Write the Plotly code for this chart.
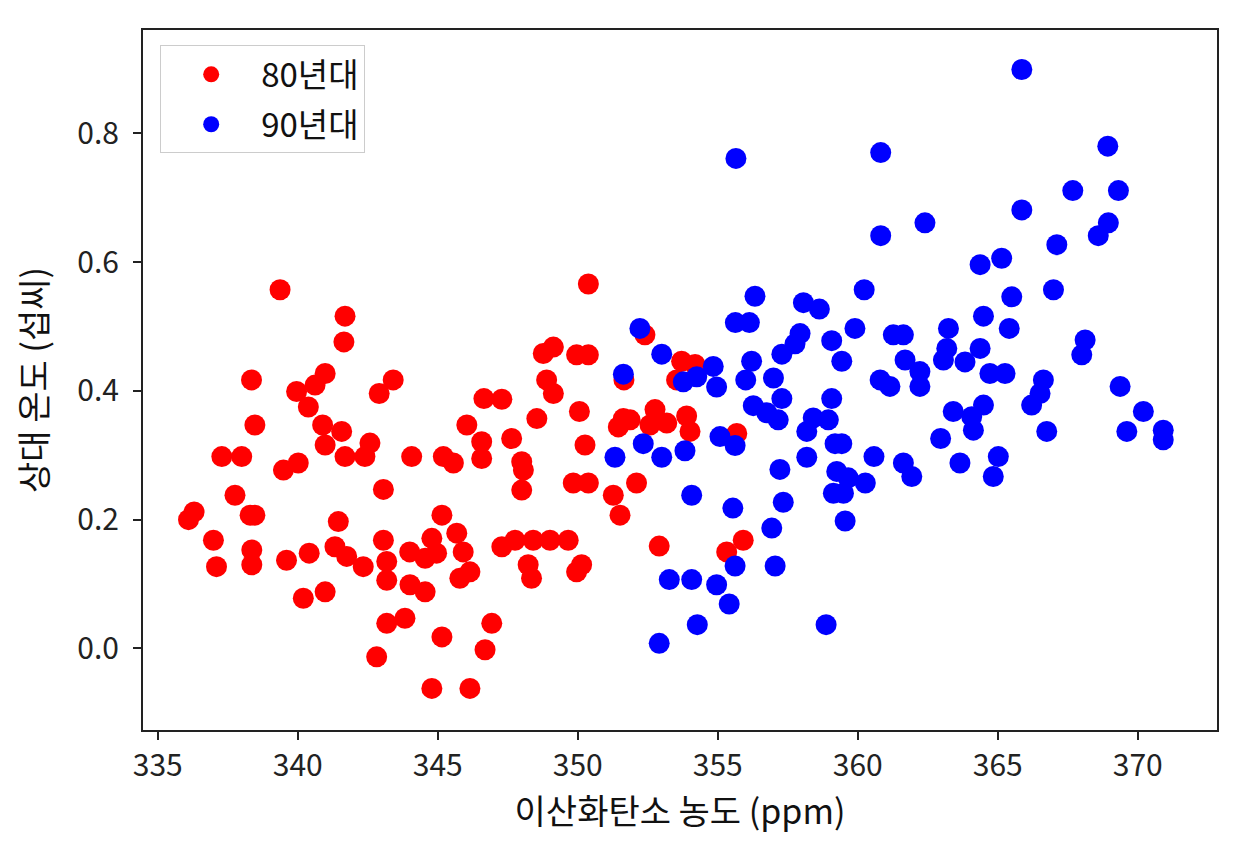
import plotly.graph_objects as go

# 80년대 (red)
co2_80s = [
    339.37, 341.69, 341.65, 338.35, 340.98, 340.62, 339.96, 340.38, 343.41, 342.91,
    338.47, 340.89, 341.57, 340.98, 342.58, 341.69, 342.40, 337.29, 338.00, 344.07,
    339.49, 340.02, 337.76, 343.06, 336.10, 336.30, 338.47, 338.30, 341.45, 336.99,
    337.10, 338.36, 338.36, 339.60, 340.41, 341.33, 341.75, 342.34, 343.06, 343.18,
    344.55, 343.18, 344.01, 344.55, 340.20, 340.98, 343.18, 343.83, 342.82, 344.79,
    345.15, 345.15,
    344.79, 345.68, 344.00, 344.96, 345.91, 346.15, 345.79,
    350.38, 352.40, 351.65, 348.77, 349.13, 349.96, 350.38, 348.89, 349.13, 346.65,
    347.29, 348.54, 350.06, 351.63, 351.45, 346.04, 346.57, 346.57, 347.64, 345.20,
    345.56, 348.00, 348.06, 348.00, 350.26, 349.84, 350.38, 352.10, 351.27, 351.51,
    347.29, 347.76, 348.41, 349.01, 349.66, 348.23, 348.35, 349.96, 350.14,
    346.93, 346.69, 346.15,
    353.71, 354.19, 353.53, 352.76, 352.58, 353.18, 353.89, 354.01, 351.87, 355.68,
    352.91, 355.32, 355.91,
]
temp_80s = [
    0.557, 0.516, 0.476, 0.417, 0.427, 0.409, 0.399, 0.375, 0.417, 0.396,
    0.347, 0.347, 0.337, 0.316, 0.319, 0.298, 0.298, 0.298, 0.298, 0.298,
    0.277, 0.288, 0.238, 0.247, 0.200, 0.212, 0.207, 0.207, 0.197, 0.168,
    0.127, 0.153, 0.130, 0.137, 0.148, 0.158, 0.143, 0.127, 0.168, 0.135,
    0.140, 0.106, 0.099, 0.088, 0.078, 0.088, 0.039, 0.047, -0.013, -0.062,
    0.018, 0.207,
    0.171, 0.179, 0.150, 0.148, 0.150, 0.119, 0.109,
    0.566, 0.487, 0.417, 0.458, 0.468, 0.456, 0.456, 0.417, 0.396, 0.388,
    0.387, 0.357, 0.368, 0.357, 0.344, 0.347, 0.321, 0.295, 0.326, 0.298,
    0.288, 0.290, 0.277, 0.246, 0.316, 0.257, 0.257, 0.257, 0.238, 0.207,
    0.158, 0.168, 0.168, 0.168, 0.168, 0.130, 0.109, 0.119, 0.130,
    0.039, -0.002, -0.062,
    0.446, 0.441, 0.417, 0.371, 0.347, 0.350, 0.361, 0.337, 0.355, 0.334,
    0.159, 0.150, 0.168,
]

# 90년대 (blue)
co2_90s = [
    355.65, 356.33, 355.63, 356.13, 358.06, 358.63, 352.22, 353.00, 351.63, 357.94,
    357.76, 357.29, 359.07, 359.43, 356.21, 356.00, 354.84, 353.77, 354.25, 354.96,
    356.99, 357.29, 356.27, 357.16, 356.75, 359.07, 358.41, 358.18, 358.95, 359.43,
    359.19, 359.25, 359.66, 359.13, 359.49, 359.55, 358.18, 357.22, 357.34, 356.93,
    357.05, 355.08, 355.62, 352.34, 351.33, 353.00, 353.83, 354.07, 355.54, 355.62,
    353.27, 354.07, 354.96, 355.41, 354.27, 352.91, 358.87,
    365.86, 360.82, 368.93, 367.68, 369.31, 365.86, 362.40, 360.82, 368.95, 368.59,
    367.11, 364.37, 365.14, 360.23, 366.99, 365.50, 364.49, 365.41, 359.90, 361.27,
    361.63, 363.24, 363.18, 364.37, 363.83, 363.06, 368.12, 368.00, 361.69, 362.22,
    362.22, 360.80, 361.15, 364.72, 365.26, 366.63, 366.51, 366.21, 369.37, 370.20,
    369.61, 370.91, 370.91, 366.75, 363.41, 364.49, 364.07, 364.13, 362.96, 360.58,
    361.63, 361.93, 363.65, 365.02, 364.84, 360.27,
]
temp_90s = [
    0.761, 0.547, 0.506, 0.506, 0.537, 0.527, 0.497, 0.457, 0.426, 0.489,
    0.473, 0.457, 0.478, 0.446, 0.446, 0.417, 0.438, 0.414, 0.422, 0.406,
    0.420, 0.388, 0.377, 0.355, 0.366, 0.388, 0.358, 0.337, 0.355, 0.318,
    0.318, 0.275, 0.265, 0.241, 0.241, 0.198, 0.297, 0.278, 0.227, 0.187,
    0.128, 0.329, 0.315, 0.318, 0.297, 0.297, 0.307, 0.238, 0.218, 0.128,
    0.107, 0.107, 0.099, 0.069, 0.037, 0.008, 0.037,
    0.899, 0.770, 0.780, 0.711, 0.711, 0.681, 0.661, 0.641, 0.661, 0.641,
    0.627, 0.596, 0.606, 0.557, 0.557, 0.546, 0.516, 0.497, 0.497, 0.487,
    0.487, 0.497, 0.466, 0.466, 0.445, 0.448, 0.479, 0.456, 0.448, 0.430,
    0.407, 0.417, 0.407, 0.427, 0.427, 0.417, 0.396, 0.378, 0.407, 0.368,
    0.337, 0.339, 0.324, 0.337, 0.368, 0.378, 0.360, 0.339, 0.326, 0.298,
    0.288, 0.267, 0.288, 0.298, 0.267, 0.257,
]

x_ticks = [335, 340, 345, 350, 355, 360, 365, 370]
y_ticks = [0.0, 0.2, 0.4, 0.6, 0.8]

FONT = "Noto Sans CJK KR"

fig = go.Figure()
fig.add_trace(go.Scatter(
    x=co2_80s, y=temp_80s, mode="markers", name="80년대", legendgroup="a",
    marker=dict(color="#ff0000", size=21, line=dict(width=0)),
))
fig.add_trace(go.Scatter(
    x=co2_90s, y=temp_90s, mode="markers", name="90년대", legendgroup="b",
    marker=dict(color="#0000ff", size=21, line=dict(width=0)),
))

axis_common = dict(
    showline=True, linecolor="#222222", linewidth=2, mirror=True,
    showgrid=False, zeroline=False,
    ticks="outside", ticklen=8, tickwidth=2, tickcolor="#222222",
    tickfont=dict(family=FONT, size=30, color="#222222"),
)

fig.update_layout(
    width=1240, height=840,
    paper_bgcolor="white", plot_bgcolor="white",
    margin=dict(l=135, r=31, t=22, b=118),
    showlegend=True,
    legend=dict(
        x=0.016, y=0.978, xanchor="left", yanchor="top",
        bgcolor="white", bordercolor="#cccccc", borderwidth=1,
        font=dict(family=FONT, size=33, color="#111111"),
        tracegroupgap=4, traceorder="grouped", itemwidth=90,
    ),
    xaxis=dict(
        range=[334.475, 372.83], tickvals=x_ticks,
        title=dict(text="이산화탄소 농도 (ppm)", font=dict(family=FONT, size=34, color="#111111"), standoff=8),
        **axis_common,
    ),
    yaxis=dict(
        range=[-0.1266, 0.9604], tickvals=y_ticks, tickformat=".1f",
        ticklabelstandoff=8,
        title=dict(text="상대 온도 (섭씨)", font=dict(family=FONT, size=34, color="#111111"), standoff=20),
        **axis_common,
    ),
)

fig.write_html("out.html")
